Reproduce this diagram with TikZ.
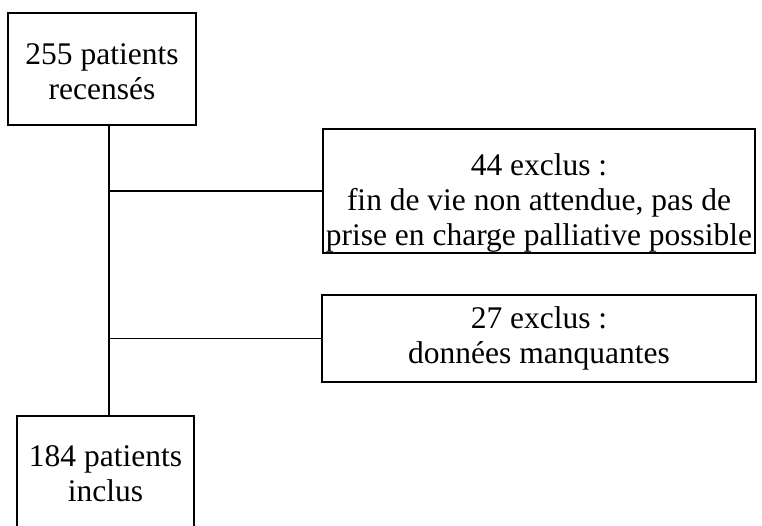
\documentclass[tikz,border=0pt]{standalone}
\usepackage{fontspec}
\setmainfont{Liberation Serif}
\usepackage{tikz}
\usetikzlibrary{positioning}

\begin{document}
\begin{tikzpicture}[x=1pt,y=-1pt]
 \tikzset{box/.style={draw,line width=1.5pt,rectangle,align=center,inner sep=0pt,
   font=\fontsize{31.5}{35}\selectfont}}
 \tikzset{link/.style={line width=1.5pt}}
 \useasboundingbox (0,0) rectangle (762,525);
 \clip (0,0) rectangle (762,525);
 \coordinate (spine) at (109,0);
 \node[box,minimum width=188,minimum height=112] (recenses) at (102,69) {\rule{0pt}{27pt}255 patients\\recensés};
 \node[box,minimum width=432,minimum height=124] (exclusA) at (539,191) {\rule{0pt}{45pt}44 exclus :\\fin de vie non attendue, pas de\\prise en charge palliative possible};
 \node[box,minimum width=434,minimum height=87] (exclusB) at (539,338.5) {27 exclus :\\données manquantes};
 \node[box,minimum width=177,minimum height=112] (inclus) at (105.5,472) {\rule{0pt}{24pt}184 patients\\inclus};

 \draw[link] (recenses.south -| spine) -- (inclus.north -| spine);
 \draw[link] (exclusA.west) -- (exclusA.west -| spine);
 \draw[link] (exclusB.west) -- (exclusB.west -| spine);
\end{tikzpicture}
\end{document}
